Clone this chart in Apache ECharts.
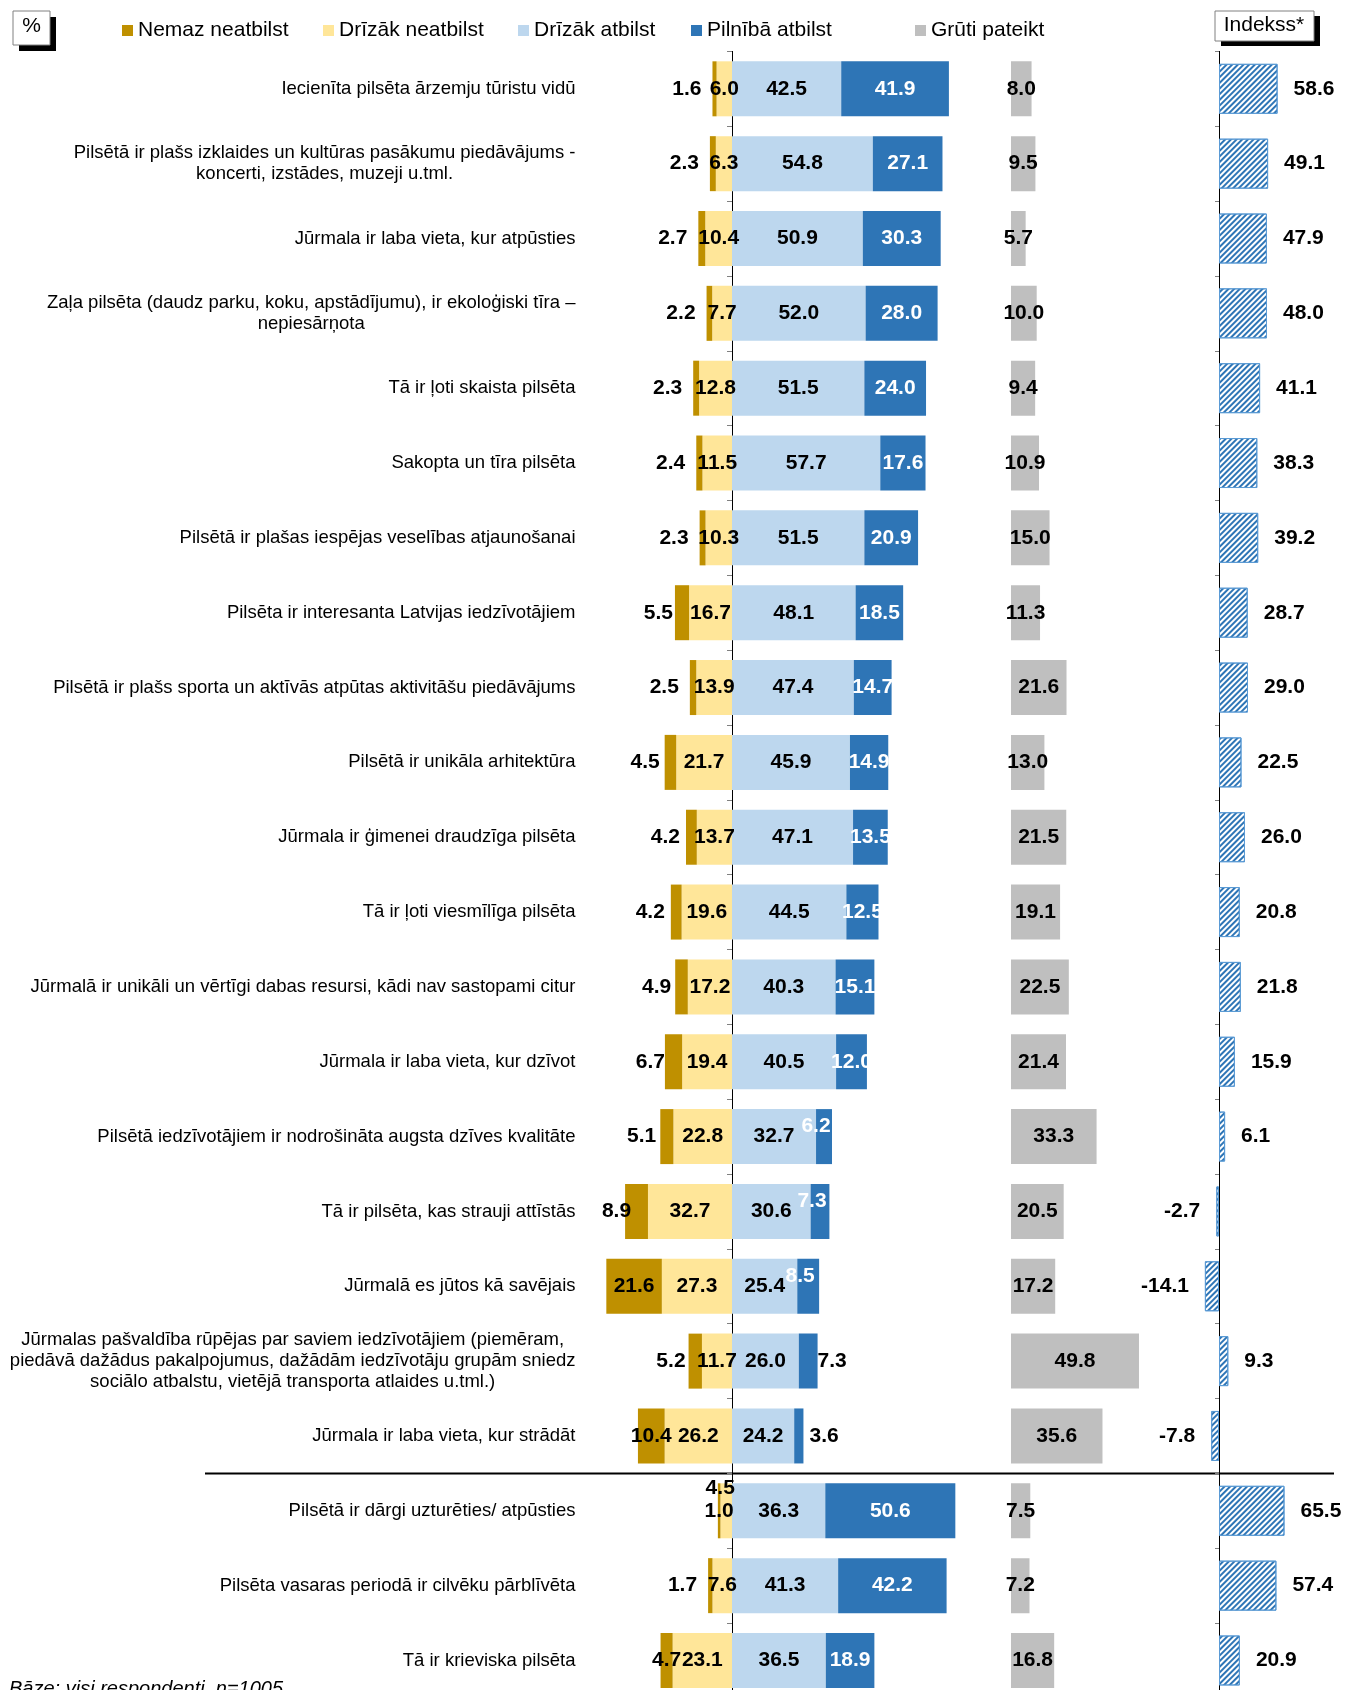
<!DOCTYPE html>
<html>
<head>
<meta charset="utf-8">
<script src="https://cdn.jsdelivr.net/npm/echarts@6/dist/echarts.min.js"></script>
<style>
html, body { margin: 0; padding: 0; background: #fff; overflow: hidden; }
#chart { width: 1346px; height: 1690px; }
</style>
</head>
<body>
<div id="chart"></div>
<script>
var FONT = '"Liberation Sans", Arial, sans-serif';

var categories = [
	'Iecienīta pilsēta ārzemju tūristu vidū',
	'Pilsētā ir plašs izklaides un kultūras pasākumu piedāvājums -\nkoncerti, izstādes, muzeji u.tml.',
	'Jūrmala ir laba vieta, kur atpūsties',
	'Zaļa pilsēta (daudz parku, koku, apstādījumu), ir ekoloģiski tīra –\nnepiesārņota',
	'Tā ir ļoti skaista pilsēta',
	'Sakopta un tīra pilsēta',
	'Pilsētā ir plašas iespējas veselības atjaunošanai',
	'Pilsēta ir interesanta Latvijas iedzīvotājiem',
	'Pilsētā ir plašs sporta un aktīvās atpūtas aktivitāšu piedāvājums',
	'Pilsētā ir unikāla arhitektūra',
	'Jūrmala ir ģimenei draudzīga pilsēta',
	'Tā ir ļoti viesmīlīga pilsēta',
	'Jūrmalā ir unikāli un vērtīgi dabas resursi, kādi nav sastopami citur',
	'Jūrmala ir laba vieta, kur dzīvot',
	'Pilsētā iedzīvotājiem ir nodrošināta augsta dzīves kvalitāte',
	'Tā ir pilsēta, kas strauji attīstās',
	'Jūrmalā es jūtos kā savējais',
	'Jūrmalas pašvaldība rūpējas par saviem iedzīvotājiem (piemēram,\npiedāvā dažādus pakalpojumus, dažādām iedzīvotāju grupām sniedz\nsociālo atbalstu, vietējā transporta atlaides u.tml.)',
	'Jūrmala ir laba vieta, kur strādāt',
	'Pilsētā ir dārgi uzturēties/ atpūsties',
	'Pilsēta vasaras periodā ir cilvēku pārblīvēta',
	'Tā ir krieviska pilsēta'
];

var nemaz    = [1.6, 2.3, 2.7, 2.2, 2.3, 2.4, 2.3, 5.5, 2.5, 4.5, 4.2, 4.2, 4.9, 6.7, 5.1, 8.9, 21.6, 5.2, 10.4, 1.0, 1.7, 4.7];
var drizNe   = [6.0, 6.3, 10.4, 7.7, 12.8, 11.5, 10.3, 16.7, 13.9, 21.7, 13.7, 19.6, 17.2, 19.4, 22.8, 32.7, 27.3, 11.7, 26.2, 4.5, 7.6, 23.1];
var drizAt   = [42.5, 54.8, 50.9, 52.0, 51.5, 57.7, 51.5, 48.1, 47.4, 45.9, 47.1, 44.5, 40.3, 40.5, 32.7, 30.6, 25.4, 26.0, 24.2, 36.3, 41.3, 36.5];
var pilniba  = [41.9, 27.1, 30.3, 28.0, 24.0, 17.6, 20.9, 18.5, 14.7, 14.9, 13.5, 12.5, 15.1, 12.0, 6.2, 7.3, 8.5, 7.3, 3.6, 50.6, 42.2, 18.9];
var gruti    = [8.0, 9.5, 5.7, 10.0, 9.4, 10.9, 15.0, 11.3, 21.6, 13.0, 21.5, 19.1, 22.5, 21.4, 33.3, 20.5, 17.2, 49.8, 35.6, 7.5, 7.2, 16.8];
var indekss  = [58.6, 49.1, 47.9, 48.0, 41.1, 38.3, 39.2, 28.7, 29.0, 22.5, 26.0, 20.8, 21.8, 15.9, 6.1, -2.7, -14.1, 9.3, -7.8, 65.5, 57.4, 20.9];

var names = ['Nemaz neatbilst', 'Drīzāk neatbilst', 'Drīzāk atbilst', 'Pilnībā atbilst', 'Grūti pateikt'];
var colors = ['#BF9000', '#FFE699', '#BDD7EE', '#2E75B6', '#BFBFBF'];

// label placement tweaks (as in the original chart)
var nemazInside = [16, 18, 19, 21];
var nemazGap = {7: 2, 9: 5, 10: 6, 11: 6, 12: 4, 13: 0, 14: 4, 15: -6, 17: 3};
var blueNudged = [14, 15, 16];
var blueOutside = {17: 0, 18: 6};

var chart = echarts.init(document.getElementById('chart'));

var numLabel = {
	show: true, fontFamily: FONT, fontSize: 21, fontWeight: 'bold',
	color: '#000', textBorderWidth: 0,
	formatter: function (p) { return Math.abs(p.value).toFixed(1); }
};
function lbl(extra) { return Object.assign({}, numLabel, extra); }

var nemazData = nemaz.map(function (v, i) {
	var item = {value: -v};
	if (nemazInside.indexOf(i) >= 0) item.label = {position: 'inside'};
	else if (nemazGap[i] != null) item.label = {distance: nemazGap[i]};
	return item;
});
var drizNeData = drizNe.map(function (v, i) {
	var item = {value: -v};
	if (i === 19) item.label = {offset: [-6, -23]};
	return item;
});
var pilnibaData = pilniba.map(function (v, i) {
	var item = {value: v};
	if (blueNudged.indexOf(i) >= 0) item.label = {offset: [-8, -10]};
	else if (blueOutside[i] != null) item.label = {position: 'right', distance: blueOutside[i], color: '#000'};
	return item;
});

var TOP = 51.4, H = 1646.5;
var barW = 55;

var option = {
	animation: false,
	backgroundColor: '#fff',
	textStyle: {fontFamily: FONT},
	legend: names.map(function (n, i) {
		return {
			data: [n], left: [122, 323, 518, 691, 915][i], top: 20, padding: 0,
			icon: 'rect', itemWidth: 11, itemHeight: 11, selectedMode: false,
			textStyle: {fontFamily: FONT, fontSize: 21, color: '#000'}
		};
	}),
	grid: [
		{left: 603.5, width: 359.8, top: TOP, height: H, outerBoundsMode: 'none'},
		{left: 1011, width: 154.2, top: TOP, height: H, outerBoundsMode: 'none'},
		{left: 1199, width: 100, top: TOP, height: H, outerBoundsMode: 'none'}
	],
	xAxis: [
		{gridIndex: 0, type: 'value', min: -50, max: 90, show: false},
		{gridIndex: 1, type: 'value', min: 0, max: 60, show: false},
		{gridIndex: 2, type: 'value', min: -20, max: 80, show: false}
	],
	yAxis: [
		{
			gridIndex: 0, type: 'category', data: categories, inverse: true,
			axisLine: {show: true, onZero: true, lineStyle: {color: '#000', width: 1}},
			axisTick: {show: true, length: 5, lineStyle: {color: '#808080'}},
			axisLabel: {
				margin: 28, color: '#000', fontFamily: FONT, fontSize: 18.5,
				formatter: function (v) {
					return v.split('\n').map(function (l) { return '{c|' + l + '}'; }).join('\n');
				},
				rich: {c: {align: 'center', fontFamily: FONT, fontSize: 18.5, lineHeight: 21, color: '#000'}}
			}
		},
		{
			gridIndex: 1, type: 'category', data: categories, inverse: true,
			axisLine: {show: false}, axisTick: {show: false}, axisLabel: {show: false}
		},
		{
			gridIndex: 2, type: 'category', data: categories, inverse: true,
			axisLine: {show: true, onZero: true, lineStyle: {color: '#000', width: 1}},
			axisTick: {show: true, length: 4, lineStyle: {color: '#808080'}},
			axisLabel: {show: false}
		}
	],
	series: [
		{
			name: names[1], type: 'bar', stack: 'a', data: drizNeData, barWidth: barW,
			itemStyle: {color: colors[1]}, label: lbl({position: 'inside'})
		},
		{
			name: names[0], type: 'bar', stack: 'a', data: nemazData, barWidth: barW,
			itemStyle: {color: colors[0]}, label: lbl({position: 'left', distance: 11})
		},
		{
			name: names[2], type: 'bar', stack: 'a', data: drizAt, barWidth: barW,
			itemStyle: {color: colors[2]}, label: lbl({position: 'inside'})
		},
		{
			name: names[3], type: 'bar', stack: 'a', data: pilnibaData, barWidth: barW,
			itemStyle: {color: colors[3]}, label: lbl({position: 'inside', color: '#fff'})
		},
		{
			name: names[4], type: 'bar', xAxisIndex: 1, yAxisIndex: 1, data: gruti, barWidth: barW,
			itemStyle: {color: colors[4]}, label: lbl({position: 'inside'})
		},
		{
			name: 'Indekss', type: 'bar', xAxisIndex: 2, yAxisIndex: 2, data: indekss, barWidth: 50,
			itemStyle: {
				color: '#fff', borderColor: '#5B9BD5', borderWidth: 1,
				decal: {
					symbol: 'rect', symbolSize: 1, dashArrayX: [1, 0], dashArrayY: [2, 2],
					rotation: -Math.PI / 4, color: '#2E75B6'
				}
			},
			label: lbl({
				position: 'outside', distance: 16,
				formatter: function (p) { return p.value.toFixed(1); }
			})
		}
	],
	graphic: [
		{type: 'rect', shape: {x: 19, y: 17, width: 37, height: 34}, style: {fill: '#000'}},
		{type: 'rect', shape: {x: 13, y: 11, width: 37, height: 34}, style: {fill: '#fff', stroke: '#808080', lineWidth: 1}},
		{type: 'text', x: 31.5, y: 26, style: {text: '%', font: '21px ' + FONT, fill: '#000', align: 'center', verticalAlign: 'middle'}},
		{type: 'rect', shape: {x: 1221, y: 16, width: 99, height: 30}, style: {fill: '#000'}},
		{type: 'rect', shape: {x: 1215, y: 11, width: 99, height: 30}, style: {fill: '#fff', stroke: '#808080', lineWidth: 1}},
		{type: 'text', x: 1264, y: 25, style: {text: 'Indekss*', font: '21px ' + FONT, fill: '#000', align: 'center', verticalAlign: 'middle'}},
		{type: 'text', x: 9, y: 1679, style: {text: 'Bāze: visi respondenti, n=1005', font: 'italic 20px ' + FONT, fill: '#000', verticalAlign: 'top'}}
	]
};

chart.setOption(option);

// separator between the first 19 statements and the last 3
var yA = chart.convertToPixel({yAxisIndex: 0}, categories[18]);
var yB = chart.convertToPixel({yAxisIndex: 0}, categories[19]);
var ySep = (yA + yB) / 2;
chart.setOption({
	graphic: option.graphic.concat([{
		type: 'line', shape: {x1: 205, y1: ySep, x2: 1334, y2: ySep},
		style: {stroke: '#000', lineWidth: 2}
	}])
});
</script>
</body>
</html>
